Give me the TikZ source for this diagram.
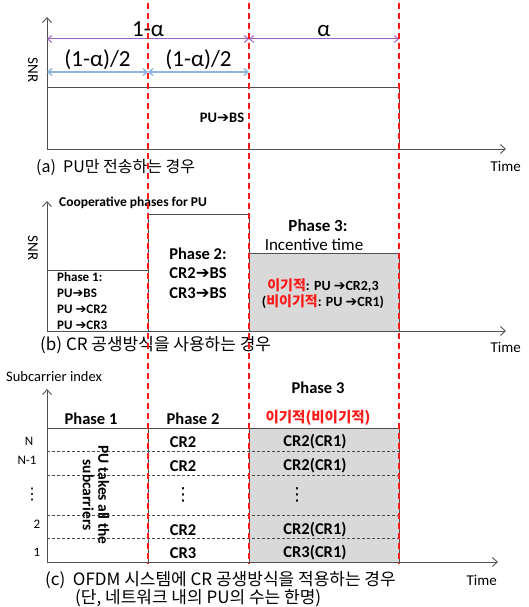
\documentclass[tikz,border=0pt]{standalone}
\usepackage{fontspec}
\usepackage{xcolor}
\setmainfont{Carlito}
\newfontfamily\krfont{Noto Sans CJK KR}
\newfontfamily\arrowfont{DejaVu Sans}
\usetikzlibrary{arrows.meta, positioning, calc}
\definecolor{cutred}{HTML}{FF1A1A}
\definecolor{spanpurple}{HTML}{A063C8}
\definecolor{spanblue}{HTML}{8FB4E0}
\definecolor{incgray}{HTML}{D9D9D9}
\definecolor{axisgray}{HTML}{505050}
\newcommand{\sz}[1]{\fontsize{#1}{#1}\selectfont}
\newcommand{\rarr}{{\arrowfont\char"2794}}

\begin{document}
\begin{tikzpicture}[x=1pt, y=-1pt, >=Stealth,
    axisline/.style={draw=axisgray, line width=0.9pt, -{Straight Barb[length=5pt, width=9pt]}},
    slotbox/.style={draw=axisgray, line width=0.9pt},
    cutline/.style={cutred, line width=1.6pt, dash pattern=on 6pt off 4pt},
    spanline/.style={line width=1pt, {Straight Barb[length=4pt, width=7pt]}-{Straight Barb[length=4pt, width=7pt]}},
    rowline/.style={draw=black!70, line width=0.7pt, dash pattern=on 3pt off 2pt},
    captext/.style={font=\krfont\sz{17}, anchor=west, inner sep=0pt},
    lbl/.style={font=\sz{15}, inner sep=0pt},
    cell/.style={font=\bfseries\sz{16.5}, inner sep=0pt}]
    \useasboundingbox (0,0) rectangle (529,607);

    % (a) PU only
    \coordinate (oa) at (47,149);
    \coordinate (ya) at (47,17);
    \coordinate (xa) at (506,149);
    \draw[axisline] (oa) -- (ya);
    \draw[axisline] (oa) -- (xa);
    \draw[slotbox] (oa) |- (399,87) -- (399,149);
    \node[font=\bfseries\sz{14.5}, inner sep=0pt] (puBS) at (222,118) {PU\rarr BS};
    \node[lbl, rotate=-90] (snrA) at (33,70) {SNR};
    \node[lbl, anchor=east] (timeA) at (521,166) {Time};
    \node[captext, font=\krfont\sz{16}] (capA) at (36,167) {(a)\ \ PU만 전송하는 경우};

    % spans
    \coordinate (s0) at (47,39);
    \coordinate (s1) at (249,39);
    \coordinate (s2) at (399,39);
    \draw[spanline, spanpurple] (s0) -- node[above=2pt, black, font=\sz{23}, inner sep=0pt] (oneMinus) {1-α} (s1);
    \draw[spanline, spanpurple] (s1) -- node[above=2pt, black, font=\sz{23}, inner sep=0pt] (alpha) {α} (s2);
    \coordinate (h0) at (47,72);
    \coordinate (h1) at (148,72);
    \coordinate (h2) at (249,72);
    \draw[spanline, spanblue, line width=1.4pt] (h0) -- node[above=2pt, black, font=\sz{23}, inner sep=0pt] (halfA) {(1-α)/2} (h1);
    \draw[spanline, spanblue, line width=1.4pt] (h1) -- node[above=2pt, black, font=\sz{23}, inner sep=0pt] (halfB) {(1-α)/2} (h2);

    % (b) cooperative
    \coordinate (ob) at (47,331);
    \coordinate (yb) at (47,201);
    \coordinate (xb) at (506,331);
    \fill[incgray] (249,253) rectangle (399,331);
    \draw[axisline] (ob) -- (yb);
    \draw[axisline] (ob) -- (xb);
    \draw[slotbox] (ob) |- (148,270) -- (148,331);
    \draw[slotbox] (148,331) |- (249,214) -- (249,331);
    \draw[slotbox] (249,331) |- (399,253) -- (399,331);
    \node[font=\bfseries\sz{13.5}, anchor=west, inner sep=0pt] (coop) at (59,203) {Cooperative phases for PU};
    \node[lbl, rotate=-90] (snrB) at (33,248) {SNR};
    \node[font=\bfseries\sz{13}, anchor=north west, align=left, inner sep=0pt] (ph1) at (57,272)
        {Phase 1:\\[3pt]PU\rarr BS\\[3pt]PU \rarr CR2\\[3pt]PU \rarr CR3};
    \node[font=\bfseries\sz{16.5}, align=center, inner sep=0pt] (ph2) at (198,273)
        {Phase 2:\\[3pt]CR2\rarr BS\\[3pt]CR3\rarr BS};
    \node[font=\bfseries\sz{17}, inner sep=0pt] (ph3) at (318,226) {Phase 3:};
    \node[font=\sz{17}, inner sep=0pt] (incent) at (314,245) {Incentive time};
    \node[font=\bfseries\sz{14}, align=center, inner sep=0pt] (selfish) at (323,294)
        {{\krfont\bfseries\color{cutred}이기적}: PU \rarr CR2,3\\[2pt]({\krfont\bfseries\color{cutred}비이기적}: PU \rarr CR1)};
    \node[lbl, anchor=east] (timeB) at (521,347) {Time};
    \node[captext] (capB) at (40,345) {(b) CR 공생방식을 사용하는 경우};

    % (c) OFDM
    \coordinate (oc) at (47,562);
    \coordinate (yc) at (47,389);
    \coordinate (xc) at (498,562);
    \fill[incgray] (249,428) rectangle (399,562);
    \foreach \y in {451,475,515,538}
        \draw[rowline] (47,\y) -- (399,\y);
    \draw[slotbox] (47,428) -- (399,428);
    \draw[slotbox] (148,428) -- (148,562);
    \draw[slotbox] (249,428) -- (249,562);
    \draw[slotbox] (399,428) -- (399,562);
    \draw[axisline] (oc) -- (yc);
    \draw[axisline] (oc) -- (xc);
    \node[lbl, anchor=west, font=\sz{14.5}] (subIdx) at (6,377) {Subcarrier index};
    \node[cell] (hd1) at (91,419) {Phase 1};
    \node[cell] (hd2) at (193,419) {Phase 2};
    \node[cell] (hd3) at (318,388) {Phase 3};
    \node[font=\krfont\bfseries\sz{14.5}, text=cutred, inner sep=0pt] (hd3b) at (318,418) {이기적(비이기적)};
    \foreach \n/\x/\y/\t in {rN/29/441/N, rNm/27/460/N-1, r2/37/524/2, r1/37/552/1}
        \node[font=\sz{13}, inner sep=0pt] (\n) at (\x,\y) {\t};
    \node[font=\arrowfont\sz{16}, inner sep=0pt] (rdots) at (32,495) {⋮};
    \foreach \n/\y/\t in {a1/442/CR2, a2/466/CR2, a4/530/CR2, a5/553/CR3}
        \node[cell] (\n) at (183,\y) {\t};
    \node[font=\arrowfont\sz{18}, inner sep=0pt] (a3) at (183,495) {⋮};
    \foreach \n/\y/\t in {b1/442/CR2(CR1), b2/466/CR2(CR1), b4/530/CR2(CR1), b5/553/CR3(CR1)}
        \node[cell] (\n) at (315,\y) {\t};
    \node[font=\arrowfont\sz{18}, inner sep=0pt] (b3) at (297,495) {⋮};
    \node[font=\bfseries\sz{15.5}, rotate=-90, align=center, inner sep=0pt] (puAll) at (96,495)
        {PU takes all the\\subcarriers};
    \node[lbl, anchor=east] (timeC) at (497,580) {Time};
    \node[captext] (capC) at (45,580) {(c)\ \ OFDM 시스템에 CR 공생방식을 적용하는 경우};
    \node[captext] (capD) at (75,598) {(단, 네트워크 내의 PU의 수는 한명)};

    % phase boundaries
    \foreach \x in {148,249,399}
        \draw[cutline] (\x,3) -- (\x,564);
\end{tikzpicture}
\end{document}
